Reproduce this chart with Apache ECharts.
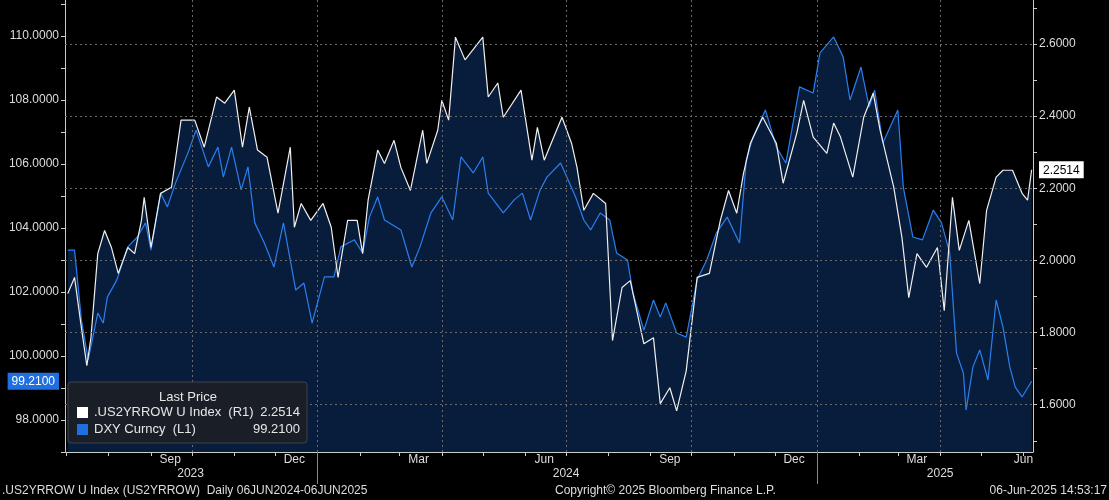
<!DOCTYPE html>
<html><head><meta charset="utf-8">
<script src="https://cdn.jsdelivr.net/npm/echarts@6/dist/echarts.min.js"></script>
<style>html,body{margin:0;padding:0;background:#000}#c{width:1109px;height:500px}</style>
</head><body><div id="c"></div>
<script>
// day offsets from 2023-07-01
const usDays=[1,6,11,15,18,23,28,33,38,45,50,55,57,62,69,77,84,94,101,110,116,123,129,134,140,147,155,164,167,172,179,188,194,199,206,213,217,221,228,233,240,245,252,261,264,272,275,280,285,292,305,309,316,320,333,341,345,350,357,363,370,374,379,386,395,400,407,413,423,430,435,442,447,454,462,471,479,485,491,496,501,510,520,525,535,540,547,557,562,567,576,584,591,596,606,612,617,623,630,638,643,649,654,661,669,674,681,686,693,700,704,707];
const usVals=[1.908,1.953,1.814,1.708,1.786,2.019,2.083,2.036,1.964,2.036,2.019,2.111,2.175,2.036,2.186,2.203,2.389,2.389,2.314,2.453,2.436,2.472,2.314,2.425,2.306,2.286,2.131,2.314,2.092,2.158,2.111,2.158,2.092,1.953,2.111,2.111,2.019,2.167,2.306,2.269,2.333,2.258,2.194,2.361,2.269,2.361,2.444,2.389,2.619,2.556,2.619,2.453,2.492,2.397,2.472,2.278,2.369,2.278,2.342,2.397,2.325,2.258,2.139,2.186,2.158,1.778,1.925,1.944,1.769,1.786,1.603,1.647,1.583,1.694,1.953,1.964,2.111,2.194,2.131,2.242,2.325,2.397,2.325,2.214,2.353,2.444,2.342,2.297,2.381,2.342,2.231,2.397,2.464,2.361,2.203,2.064,1.897,2.019,1.981,2.036,1.861,2.175,2.028,2.111,1.936,2.139,2.231,2.250,2.250,2.186,2.167,2.2514];
const dxDays=[1,6,11,16,23,27,30,37,45,52,58,62,69,74,80,89,95,104,111,115,121,128,133,138,145,152,159,168,174,180,189,196,201,211,217,222,228,233,245,253,259,267,275,283,289,298,305,309,320,328,334,340,347,352,362,373,379,384,391,398,403,411,415,423,430,435,439,447,454,462,469,476,484,493,498,503,512,520,527,537,547,552,562,569,574,582,588,592,598,609,613,620,627,635,641,647,652,657,659,664,669,675,681,686,691,695,700,707];
const dxVals=[103.31,103.31,101.13,99.88,101.34,101.03,101.84,102.38,103.41,103.72,104.16,103.31,105.09,104.66,105.41,106.34,107.06,105.91,106.53,105.59,106.53,105.19,105.91,104.16,103.53,102.78,104.16,102.06,102.28,101.03,102.47,102.47,103.41,103.63,103.22,104.34,104.97,104.25,103.94,102.78,103.41,104.47,104.97,104.25,106.22,105.72,106.22,105.09,104.47,104.88,105.09,104.25,105.19,105.59,106.03,104.97,104.25,103.94,104.47,104.25,103.22,103.0,101.97,100.81,101.75,101.22,101.66,100.72,100.59,102.38,103.0,103.84,104.34,103.53,106.13,106.84,107.69,106.53,106.03,108.41,108.22,109.47,109.97,109.34,108.0,109.03,107.78,108.31,106.66,107.69,105.28,103.72,103.63,104.56,104.16,103.22,100.09,99.47,98.31,99.66,100.19,99.25,101.75,100.91,99.66,99.03,98.72,99.21];
const leftLabels=[98,100,102,104,106,108,110];
const rightLabels=[1.6,1.8,2.0,2.2,2.4,2.6];
const monthLabels=['2023-09-15','2023-12-15','2024-03-15','2024-06-15','2024-09-15','2024-12-15','2025-03-15','2025-06-01'];
const yearLabels=[['2023-09-30','2023'],['2024-07-01','2024'],['2025-04-01','2025']];
const quarterLines=['2023-10-01','2024-01-01','2024-04-01','2024-07-01','2024-10-01','2025-01-01','2025-04-01'];
const usName='.US2YRROW U Index  (R1)', dxName='DXY Curncy  (L1)';

const base=Date.UTC(2023,6,1), DAY=86400000;
const ts=d=>base+d*DAY, t=s=>Date.parse(s+'T00:00:00Z');
const us=usDays.map((d,i)=>[ts(d),usVals[i]]);
const dx=dxDays.map((d,i)=>[ts(d),dxVals[i]]);
const usLast=usVals[usVals.length-1], dxLast=dxVals[dxVals.length-1];
const months=[];for(let y=2023,m=6;y<2025||m<=5;){months.push(Date.UTC(y,m,1));m++;if(m>11){m=0;y++;}}
const F='"Liberation Sans Narrow","Liberation Sans",Arial,sans-serif';
const fill='#081d3b';
const ticksL=[];for(let v=97;v<=111;v++)ticksL.push(v);
const ticksR=[];for(let v=15;v<=27;v++)ticksR.push(v/10);
const mlBase={silent:true,symbol:'none',label:{show:false},lineStyle:{type:[2,3],color:'#6a6a6a',width:1},animation:false};
const MN=['Jan','Feb','Mar','Apr','May','Jun','Jul','Aug','Sep','Oct','Nov','Dec'];
const tx=(x,y,text,extra)=>Object.assign({type:'text',x:x,y:y,z:101,style:Object.assign({text:text,fill:'#e6e6e6',font:'13px '+F},extra||{})});

const chart=echarts.init(document.getElementById('c'));
chart.setOption({
 backgroundColor:'#000',animation:false,
 grid:{left:65,right:76,top:0,bottom:48},
 xAxis:[{type:'value',min:t('2023-06-30'),max:t('2025-06-08'),scale:true,
   axisLine:{lineStyle:{color:'#ccc'}},splitLine:{show:false},
   axisTick:{customValues:months,length:4,lineStyle:{color:'#ccc'}},
   axisLabel:{customValues:monthLabels.map(t),color:'#ddd',fontFamily:F,fontSize:12,margin:2,
     formatter:v=>MN[new Date(v).getUTCMonth()]}},
  {type:'value',position:'bottom',min:t('2023-06-30'),max:t('2025-06-08'),scale:true,
   axisLine:{show:false},splitLine:{show:false},
   axisTick:{customValues:[t('2024-01-01'),t('2025-01-01')],length:32,lineStyle:{color:'#888'}},
   axisLabel:{customValues:yearLabels.map(a=>t(a[0])),color:'#ddd',fontFamily:F,fontSize:12,margin:16,
     formatter:v=>{const a=yearLabels.find(a=>t(a[0])===v);return a?a[1]:'';}}}],
 yAxis:[{type:'value',position:'left',min:97,max:111.125,scale:true,
   axisLine:{show:true,lineStyle:{color:'#ccc'}},splitLine:{show:false},
   axisTick:{show:true,customValues:ticksL,length:4,lineStyle:{color:'#ccc'}},
   axisLabel:{customValues:leftLabels.concat([dxLast]),fontFamily:F,fontSize:12,color:'#ddd',margin:6,
     formatter:v=>v===dxLast?'{b|'+v.toFixed(4)+'}':v.toFixed(4),
     rich:{b:{backgroundColor:'#1f6fe0',color:'#fff',padding:[3,4,2,4],fontFamily:F,fontSize:12}}}},
  {type:'value',position:'right',min:1.469,max:2.722,scale:true,
   axisLine:{show:true,lineStyle:{color:'#ccc'}},splitLine:{show:false},
   axisTick:{show:true,customValues:ticksR,length:4,lineStyle:{color:'#ccc'}},
   axisLabel:{customValues:rightLabels.concat([usLast]),fontFamily:F,fontSize:12,color:'#ddd',margin:6,
     formatter:v=>v===usLast?'{w|'+v.toFixed(4)+'}':v.toFixed(4),
     rich:{w:{backgroundColor:'#fff',color:'#000',padding:[3,4,2,4],fontFamily:F,fontSize:12}}}}],
 series:[
  {type:'line',data:dx,yAxisIndex:0,symbol:'none',lineStyle:{width:0},areaStyle:{color:fill,opacity:1},z:1},
  {type:'line',data:us,yAxisIndex:1,symbol:'none',lineStyle:{width:0},areaStyle:{color:fill,opacity:1},z:1,
   markLine:Object.assign({},mlBase,{data:rightLabels.map(v=>({yAxis:v})).concat(quarterLines.map(s=>({xAxis:t(s)})))})},
  {type:'line',data:dx,yAxisIndex:0,symbol:'none',lineStyle:{width:1.2,color:'#2a7ff0'},z:3},
  {type:'line',data:us,yAxisIndex:1,symbol:'none',lineStyle:{width:1.2,color:'#f0f0f0'},z:4}
 ],
 graphic:[
  {type:'rect',x:68,y:382,z:100,shape:{x:0,y:0,width:239,height:61,r:3},style:{fill:'#1a1f27',stroke:'#3c424c'}},
  tx(188,391,'Last Price',{align:'center'}),
  {type:'rect',x:77,y:407,z:101,shape:{x:0,y:0,width:11,height:11},style:{fill:'#fff'}},
  tx(94,406,usName),
  tx(300,406,usLast.toFixed(4),{align:'right'}),
  {type:'rect',x:77,y:424,z:101,shape:{x:0,y:0,width:11,height:11},style:{fill:'#1f6fe0'}},
  tx(94,423,dxName),
  tx(300,423,dxLast.toFixed(4),{align:'right'}),
  {type:'text',left:2,top:485,style:{text:'.US2YRROW U Index (US2YRROW)  Daily 06JUN2024-06JUN2025',fill:'#ddd',font:'12px '+F}},
  {type:'text',left:555,top:485,style:{text:'Copyright© 2025 Bloomberg Finance L.P.',fill:'#ddd',font:'12px '+F}},
  {type:'text',right:2,top:485,style:{text:'06-Jun-2025 14:53:17',fill:'#ddd',font:'12px '+F}}
 ]
});
</script></body></html>
